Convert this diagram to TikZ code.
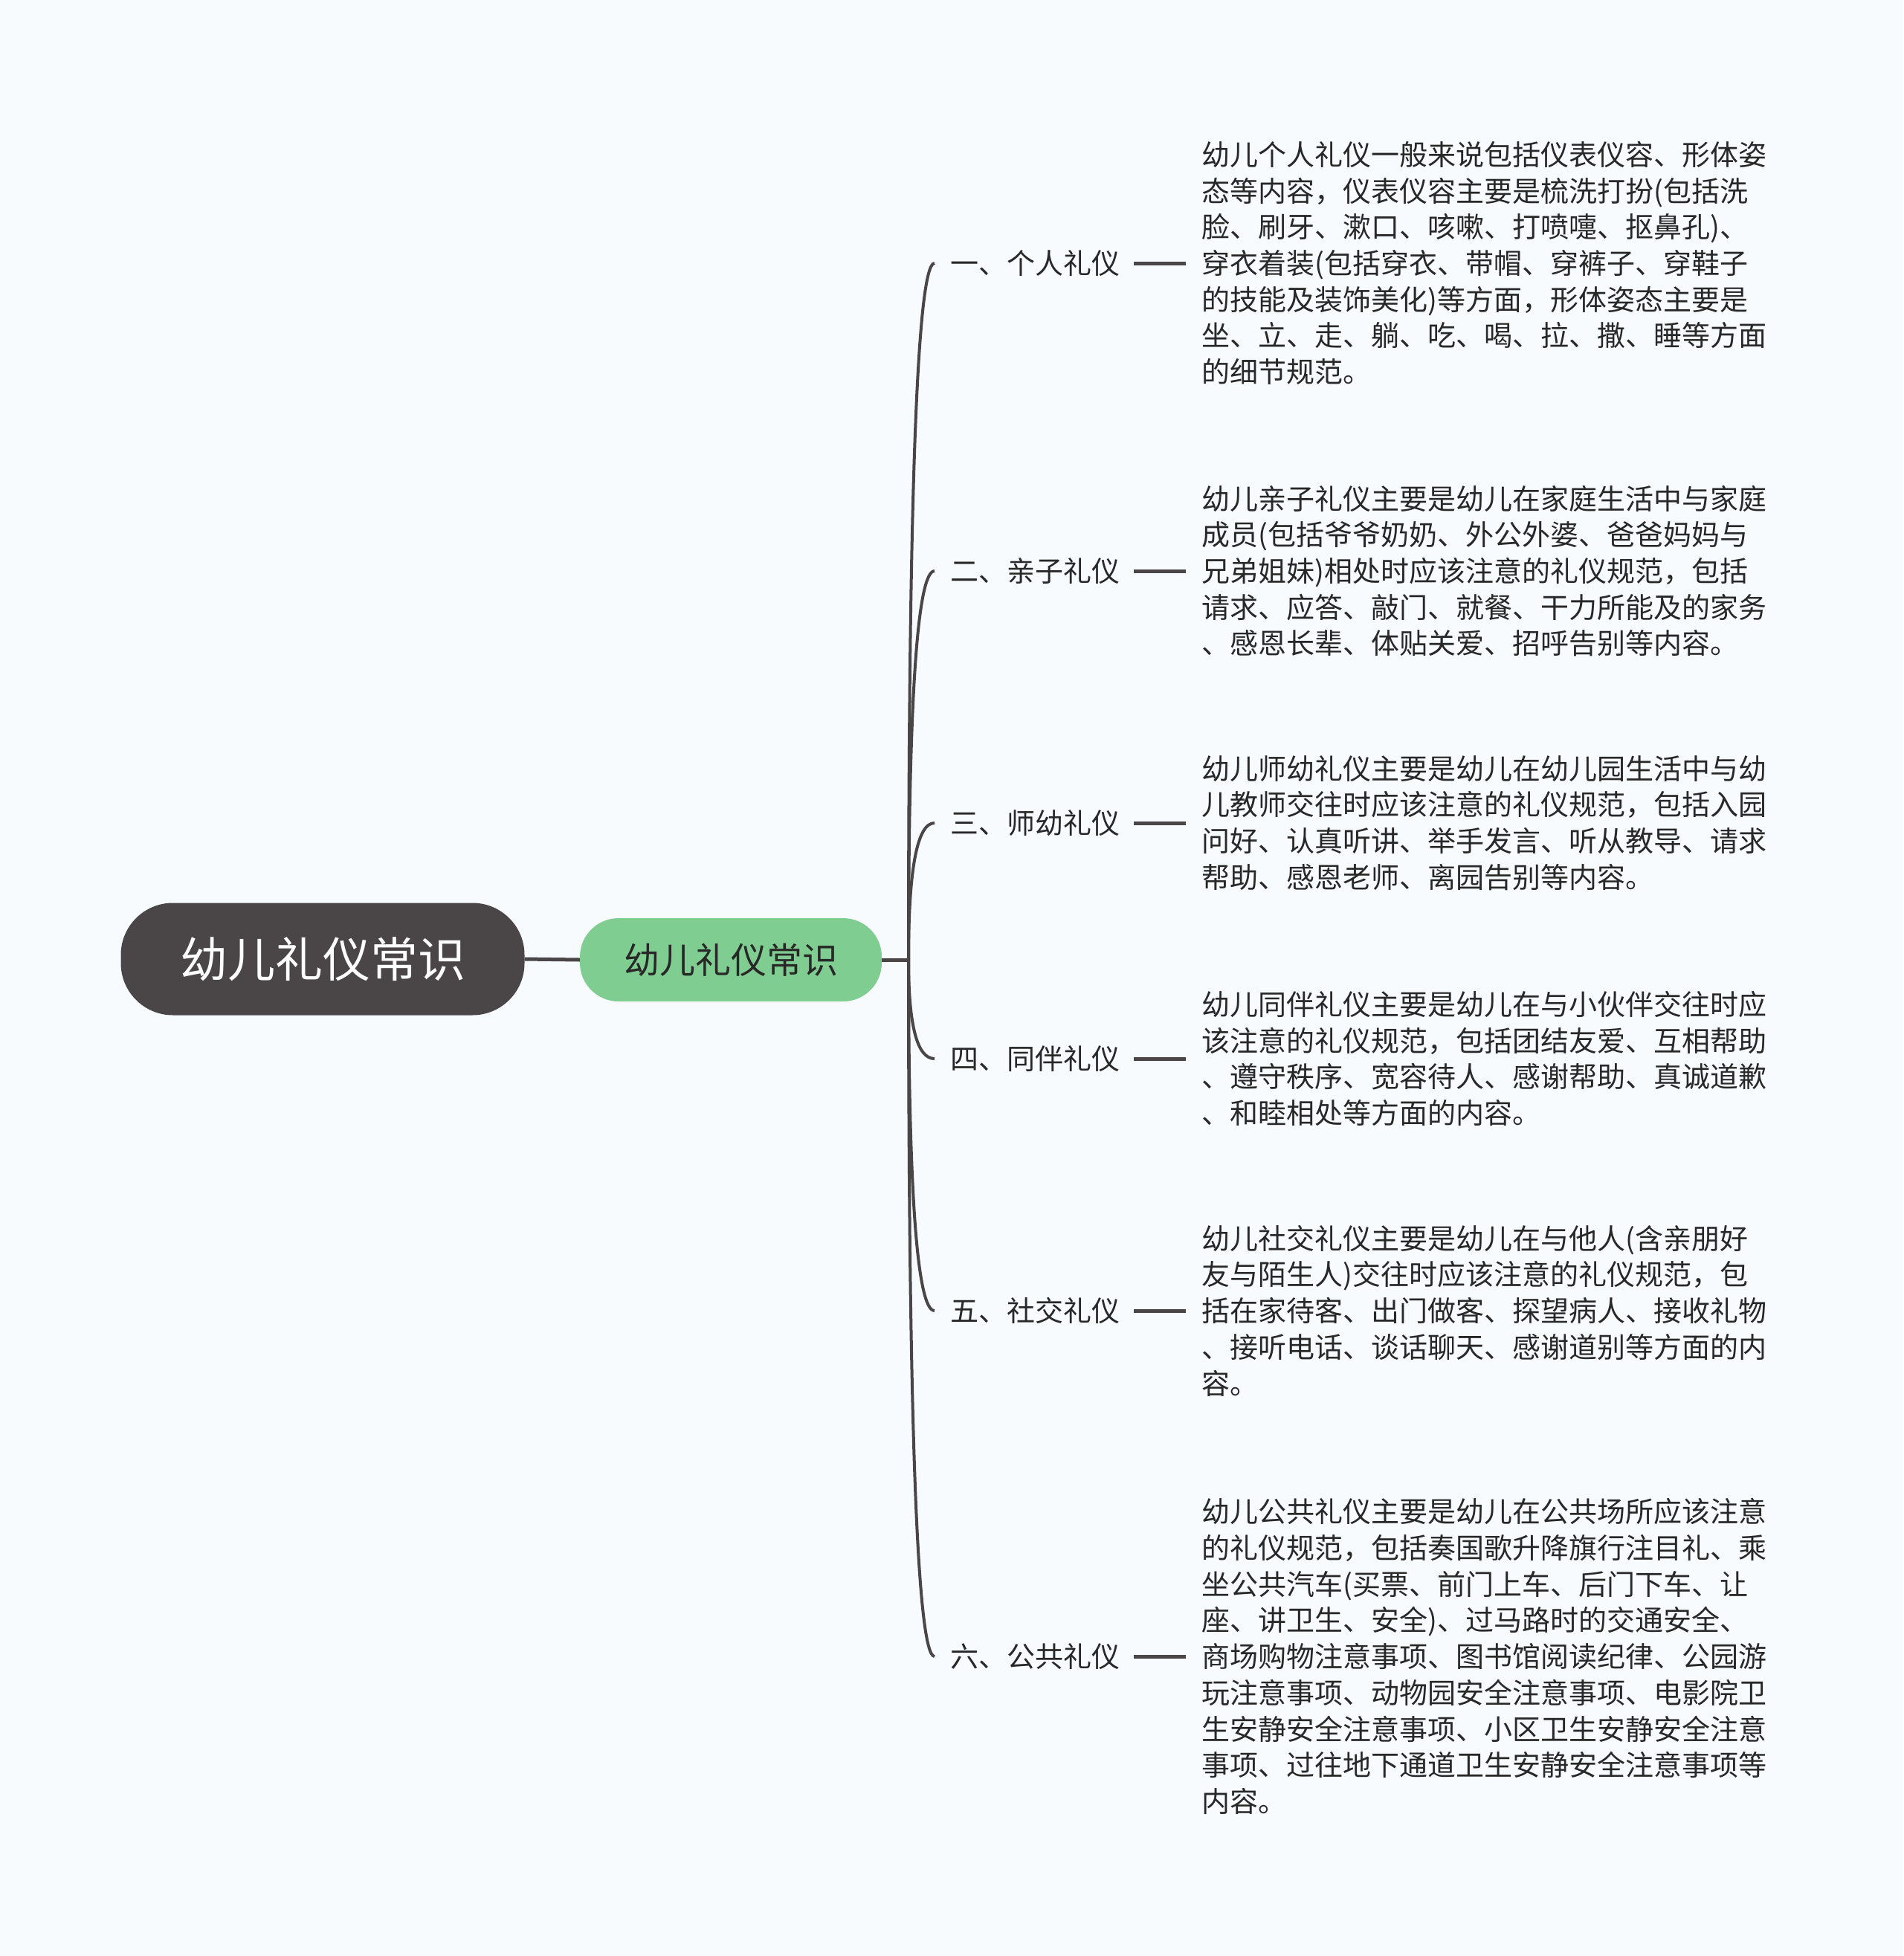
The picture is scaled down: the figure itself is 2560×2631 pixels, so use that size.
\documentclass[tikz,border=0pt]{standalone}
\usepackage{fontspec}
\setmainfont{Noto Sans CJK SC}
\usetikzlibrary{calc}
\definecolor{bgc}{RGB}{247,251,253}
\definecolor{rootc}{RGB}{74,70,71}
\definecolor{greenc}{RGB}{128,205,145}
\definecolor{linec}{RGB}{74,70,71}
\definecolor{txtc}{RGB}{40,40,40}
\tikzset{
  rootbox/.style={rectangle, rounded corners=70pt, fill=rootc, text=white,
    minimum width=543pt, minimum height=151pt, inner sep=0pt,
    font={\fontsize{64pt}{70pt}\selectfont}},
  greenbox/.style={rectangle, rounded corners=52pt, fill=greenc, text=txtc,
    minimum width=406pt, minimum height=112pt, inner sep=0pt,
    font={\fontsize{48pt}{54pt}\selectfont}},
  labelbox/.style={anchor=west, inner sep=0pt, text=txtc,
    font={\fontsize{38pt}{46pt}\selectfont}},
  textbox/.style={anchor=west, inner sep=0pt, text=txtc, align=left,
    font={\fontsize{38pt}{48.7pt}\selectfont}},
  conn/.style={draw=linec, line width=5pt},
  branch/.style={draw=linec, line width=4pt},
}
\begin{document}
\begin{tikzpicture}[x=1pt,y=-1pt]
\fill[bgc] (0,0) rectangle (2560,2631);
\useasboundingbox (0,0) rectangle (2560,2631);

\node[rootbox] (root) at (434,1290) {幼儿礼仪常识};
\node[greenbox] (green) at (983,1291) {幼儿礼仪常识};
\coordinate (trunk) at (1222,1291);
\draw[conn] (root.east) -- (green.west);
\draw[conn] (green.east) -- (trunk);

\node[labelbox] (l1) at (1278,354) {一、个人礼仪};
\node[labelbox] (l2) at (1278,768) {二、亲子礼仪};
\node[labelbox] (l3) at (1278,1107) {三、师幼礼仪};
\node[labelbox] (l4) at (1278,1424) {四、同伴礼仪};
\node[labelbox] (l5) at (1278,1763) {五、社交礼仪};
\node[labelbox] (l6) at (1278,2228) {六、公共礼仪};

\node[textbox] (t1) at (1616,354) {幼儿个人礼仪一般来说包括仪表仪容、形体姿\\态等内容，仪表仪容主要是梳洗打扮(包括洗\\脸、刷牙、漱口、咳嗽、打喷嚏、抠鼻孔)、\\穿衣着装(包括穿衣、带帽、穿裤子、穿鞋子\\的技能及装饰美化)等方面，形体姿态主要是\\坐、立、走、躺、吃、喝、拉、撒、睡等方面\\的细节规范。};
\node[textbox] (t2) at (1616,768) {幼儿亲子礼仪主要是幼儿在家庭生活中与家庭\\成员(包括爷爷奶奶、外公外婆、爸爸妈妈与\\兄弟姐妹)相处时应该注意的礼仪规范，包括\\请求、应答、敲门、就餐、干力所能及的家务\\、感恩长辈、体贴关爱、招呼告别等内容。};
\node[textbox] (t3) at (1616,1107) {幼儿师幼礼仪主要是幼儿在幼儿园生活中与幼\\儿教师交往时应该注意的礼仪规范，包括入园\\问好、认真听讲、举手发言、听从教导、请求\\帮助、感恩老师、离园告别等内容。};
\node[textbox] (t4) at (1616,1424) {幼儿同伴礼仪主要是幼儿在与小伙伴交往时应\\该注意的礼仪规范，包括团结友爱、互相帮助\\、遵守秩序、宽容待人、感谢帮助、真诚道歉\\、和睦相处等方面的内容。};
\node[textbox] (t5) at (1616,1763) {幼儿社交礼仪主要是幼儿在与他人(含亲朋好\\友与陌生人)交往时应该注意的礼仪规范，包\\括在家待客、出门做客、探望病人、接收礼物\\、接听电话、谈话聊天、感谢道别等方面的内\\容。};
\node[textbox] (t6) at (1616,2228) {幼儿公共礼仪主要是幼儿在公共场所应该注意\\的礼仪规范，包括奏国歌升降旗行注目礼、乘\\坐公共汽车(买票、前门上车、后门下车、让\\座、讲卫生、安全)、过马路时的交通安全、\\商场购物注意事项、图书馆阅读纪律、公园游\\玩注意事项、动物园安全注意事项、电影院卫\\生安静安全注意事项、小区卫生安静安全注意\\事项、过往地下通道卫生安静安全注意事项等\\内容。};

\foreach \i in {1,...,6} {
  \coordinate (e\i) at ([xshift=-21pt]l\i.west);
  \draw[branch] (trunk) .. controls ($(trunk)!0.6667!(trunk|-e\i)$) and ($(e\i)!0.6667!(trunk|-e\i)$) .. (e\i);
  \draw[conn] ([xshift=19pt]l\i.east) -- ([xshift=-21pt]t\i.west |- l\i.east);
}
\end{tikzpicture}
\end{document}
